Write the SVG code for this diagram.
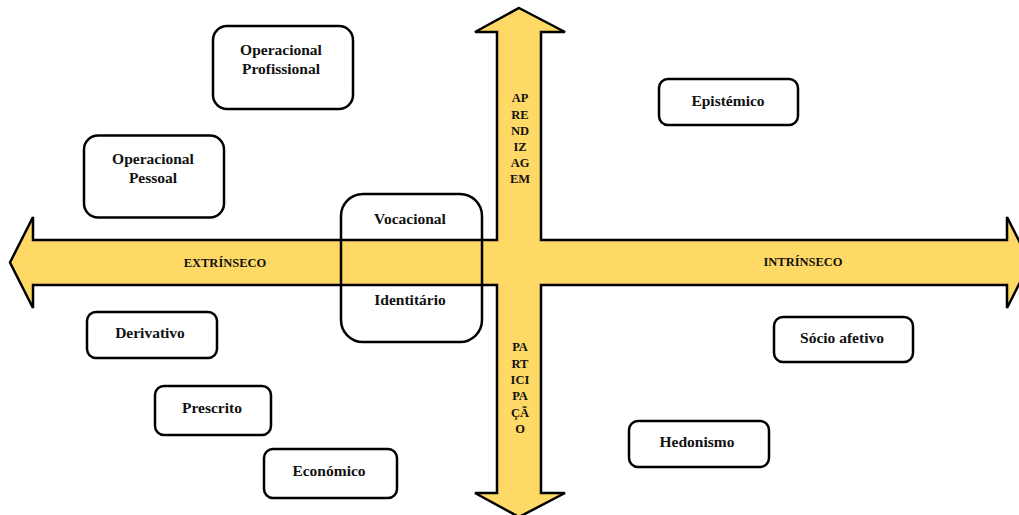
<svg xmlns="http://www.w3.org/2000/svg" width="1019" height="515" viewBox="0 0 1019 515">
<style>
.box{fill:#fff;stroke:#000;stroke-width:2.5}
.boxt{fill:none;stroke:#000;stroke-width:2.5}
.lbl{font-family:"Liberation Serif","Times New Roman",serif;font-weight:bold;font-size:15.5px;fill:#111;text-anchor:middle;dominant-baseline:central}
.ax{font-family:"Liberation Serif","Times New Roman",serif;font-weight:bold;font-size:12.5px;fill:#111;text-anchor:middle;dominant-baseline:central}
.arrow{fill:#FFD966;stroke:#000;stroke-width:2.5;stroke-linejoin:miter}
</style>
<rect width="1019" height="515" fill="#fff"/>
<g id="connectors">
<polygon class="arrow" points="519,8 565,32 541,32 541,240 1007,240 1007,217 1030,262.5 1007,308 1007,285 541,285 541,493 565,493 519,517 475,493 497,493 497,285 33,285 33,308 10,262.5 33,217 33,240 497,240 497,32 475,32"/>
<text class="ax" x="225" y="263">EXTRÍNSECO</text>
<text class="ax" x="803" y="262">INTRÍNSECO</text>
<text class="ax" x="520" y="98">AP</text>
<text class="ax" x="520" y="114.5">RE</text>
<text class="ax" x="520" y="130.5">ND</text>
<text class="ax" x="520" y="146.5">IZ</text>
<text class="ax" x="520" y="163">AG</text>
<text class="ax" x="520" y="179">EM</text>
<text class="ax" x="520" y="347">PA</text>
<text class="ax" x="520" y="363.5">RT</text>
<text class="ax" x="520" y="380">ICI</text>
<text class="ax" x="520" y="396">PA</text>
<text class="ax" x="520" y="412.5">ÇÃ</text>
<text class="ax" x="520" y="429">O</text>
</g>
<g id="operacional-profissional">
<rect class="box" x="213" y="26" width="140" height="83" rx="14"/>
<text class="lbl" x="281" y="49.5">Operacional</text>
<text class="lbl" x="281" y="68.5">Profissional</text>
</g>
<g id="operacional-pessoal">
<rect class="box" x="84" y="135.5" width="140" height="82" rx="14"/>
<text class="lbl" x="153" y="158.5">Operacional</text>
<text class="lbl" x="153" y="177.5">Pessoal</text>
</g>
<g id="epistemico">
<rect class="box" x="659" y="79" width="139" height="46" rx="9"/>
<text class="lbl" x="728" y="100.5">Epistémico</text>
</g>
<g id="vocacional-identitario">
<rect class="boxt" x="341" y="194" width="141" height="148" rx="22"/>
<text class="lbl" x="410" y="218.5">Vocacional</text>
<text class="lbl" x="410" y="299.5">Identitário</text>
</g>
<g id="derivativo">
<rect class="box" x="87" y="312" width="130" height="46" rx="9"/>
<text class="lbl" x="150" y="332.5">Derivativo</text>
</g>
<g id="prescrito">
<rect class="box" x="155" y="386" width="116" height="49" rx="9"/>
<text class="lbl" x="212" y="407.5">Prescrito</text>
</g>
<g id="economico">
<rect class="box" x="264" y="449" width="133" height="49" rx="9"/>
<text class="lbl" x="329" y="470.5">Económico</text>
</g>
<g id="socio-afetivo">
<rect class="box" x="774" y="317" width="139" height="45" rx="9"/>
<text class="lbl" x="842" y="337.5">Sócio afetivo</text>
</g>
<g id="hedonismo">
<rect class="box" x="629" y="421" width="140" height="46" rx="9"/>
<text class="lbl" x="697" y="441.5">Hedonismo</text>
</g>
</svg>
